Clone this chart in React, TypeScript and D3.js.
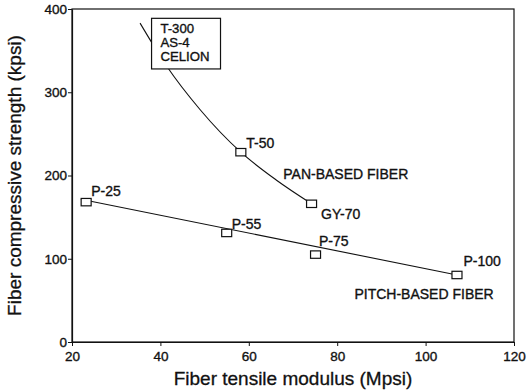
import React, { useEffect, useRef } from 'react';
import * as d3 from 'd3';

// Fiber grades: tensile modulus (Mpsi) vs compressive strength (kpsi)
const panNames = ['T-50', 'GY-70'];
const panModulus = [58.2, 74.2];
const panStrength = [228, 166];

const pitchNames = ['P-25', 'P-55', 'P-75', 'P-100'];
const pitchModulus = [23.2, 55.0, 75.1, 107.1];
const pitchStrength = [168, 131, 105, 80.5];

// trend curve for PAN fibers
const panCurveX = [35.4, 41.4, 49.0, 58.2, 66.2, 74.2];
const panCurveY = [383, 331.5, 279, 228, 194.6, 166];

// straight fit for pitch fibers
const pitchFitX = [22.0, 107.1];
const pitchFitY = [171.5, 80.5];

const xTicks = [20, 40, 60, 80, 100, 120];
const yTicks = [0, 100, 200, 300, 400];

const boxLines = ['T-300', 'AS-4', 'CELION'];

const FONT = '"Liberation Sans", Arial, Helvetica, sans-serif';
const INK = '#111';

export default function App() {
  const ref = useRef<SVGSVGElement>(null);

  useEffect(() => {
    if (!ref.current) return;
    const svg = d3.select(ref.current);
    svg.selectAll('*').remove();

    const margin = { top: 9, right: 13, bottom: 49, left: 72 };
    const W = 527, H = 391;
    const width = W - margin.left - margin.right;
    const height = H - margin.top - margin.bottom;

    const g = svg.append('g')
      .attr('transform', `translate(${margin.left},${margin.top})`);

    const x = d3.scaleLinear().domain([20, 120]).range([0, width]);
    const y = d3.scaleLinear().domain([0, 400]).range([height, 0]);

    // scanned print looks a little heavier than regular weight
    const ink = (t: d3.Selection<any, any, any, any>, size: number) =>
      t.attr('font-family', FONT)
        .attr('font-size', size)
        .attr('fill', INK)
        .attr('stroke', INK)
        .attr('stroke-width', 0.35);

    // frame
    g.append('rect')
      .attr('width', width)
      .attr('height', height)
      .attr('fill', 'none')
      .attr('stroke', INK)
      .attr('stroke-width', 1.2);

    // axes
    const xAxis = g.append('g')
      .attr('transform', `translate(0,${height})`)
      .call(d3.axisBottom(x).tickValues(xTicks).tickSize(4).tickSizeOuter(0));
    const yAxis = g.append('g')
      .call(d3.axisLeft(y).tickValues(yTicks).tickSize(4).tickSizeOuter(0));

    [xAxis, yAxis].forEach(a => {
      a.select('.domain').attr('stroke', INK).attr('stroke-width', 1.2);
      a.selectAll('.tick line').attr('stroke', INK);
      ink(a.selectAll('.tick text'), 13.5);
    });
    xAxis.selectAll('.tick text').attr('dy', '0.9em');
    yAxis.selectAll('.tick text').attr('x', -5);

    // axis titles
    ink(svg.append('text'), 19)
      .attr('x', margin.left + width / 2)
      .attr('y', 385)
      .attr('text-anchor', 'middle')
      .attr('stroke-width', 0.3)
      .text('Fiber tensile modulus (Mpsi)');

    ink(svg.append('text'), 19)
      .attr('transform', `translate(21,${margin.top + height / 2}) rotate(-90)`)
      .attr('text-anchor', 'middle')
      .attr('stroke-width', 0.3)
      .text('Fiber compressive strength (kpsi)');

    // PAN curve
    const curve = d3.line<number>()
      .x(d => x(d))
      .y((_, i) => y(panCurveY[i]))
      .curve(d3.curveMonotoneX);
    g.append('path')
      .datum(panCurveX)
      .attr('d', curve)
      .attr('fill', 'none')
      .attr('stroke', INK)
      .attr('stroke-width', 1.1);

    // pitch fit line
    g.append('line')
      .attr('x1', x(pitchFitX[0]))
      .attr('y1', y(pitchFitY[0]))
      .attr('x2', x(pitchFitX[1]))
      .attr('y2', y(pitchFitY[1]))
      .attr('stroke', INK)
      .attr('stroke-width', 1.1);

    // label box for the T-300 group
    const box = g.append('g');
    box.append('rect')
      .attr('x', x(38.0))
      .attr('y', y(388.8))
      .attr('width', x(53.6) - x(38.0))
      .attr('height', y(328) - y(388.8))
      .attr('fill', '#fff')
      .attr('stroke', INK)
      .attr('stroke-width', 1.2);
    boxLines.forEach((t, i) => {
      ink(box.append('text'), 13.2)
        .attr('x', x(40.0))
        .attr('y', y(371.5) + i * 14.2)
        .text(t);
    });

    // markers
    const drawSquares = (xs: number[], ys: number[]) => {
      g.selectAll(null)
        .data(xs)
        .enter()
        .append('rect')
        .attr('x', d => x(d) - 5)
        .attr('y', (_, i) => y(ys[i]) - 3.7)
        .attr('width', 10)
        .attr('height', 7.4)
        .attr('fill', '#fff')
        .attr('stroke', INK)
        .attr('stroke-width', 1.2);
    };
    drawSquares(panModulus, panStrength);
    drawSquares(pitchModulus, pitchStrength);

    // point labels (offset in px from the marker)
    const offsets: Record<string, [number, number]> = {
      'T-50': [5.5, -4.5],
      'GY-70': [9.5, 15],
      'P-25': [5, -6.5],
      'P-55': [5, -4],
      'P-75': [3.5, -8.5],
      'P-100': [6.5, -8.5],
    };
    const labelPts = [
      ...panNames.map((n, i) => ({ n, x: panModulus[i], y: panStrength[i] })),
      ...pitchNames.map((n, i) => ({ n, x: pitchModulus[i], y: pitchStrength[i] })),
    ];
    labelPts.forEach(p => {
      const [dx, dy] = offsets[p.n];
      ink(g.append('text'), 14)
        .attr('x', x(p.x) + dx)
        .attr('y', y(p.y) + dy)
        .text(p.n);
    });

    // series labels
    ink(g.append('text'), 14)
      .attr('x', x(67.8))
      .attr('y', y(195.4))
      .text('PAN-BASED FIBER');
    ink(g.append('text'), 14)
      .attr('x', x(83.9))
      .attr('y', y(51.7))
      .text('PITCH-BASED FIBER');
  }, []);

  return (
    <svg
      ref={ref}
      width={527}
      height={391}
      style={{ position: 'absolute', left: 0, top: 0, background: '#fff' }}
    />
  );
}
